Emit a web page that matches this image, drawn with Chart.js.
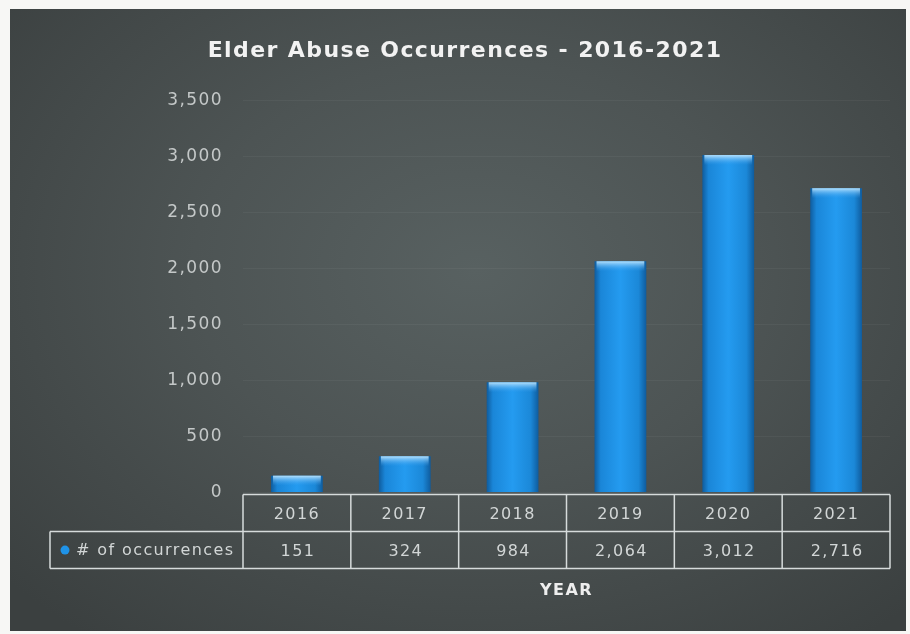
<!DOCTYPE html>
<html>
<head>
    <meta charset="utf-8">
    <title>Elder Abuse Occurrences</title>
    <style>
        html, body {
            margin: 0;
            padding: 0;
            background: #f7f7f5;
        }
        #wrap {
            position: absolute;
            left: 10px;
            top: 9px;
            width: 896px;
            height: 622px;
            background: radial-gradient(ellipse 70% 75% at 52% 42%, #586161 0%, #4d5454 45%, #3b4040 100%);
        }
    </style>
</head>
<body>
    <div id="wrap"><canvas id="myChart"></canvas></div>
</body>
<script src="https://cdn.jsdelivr.net/npm/chart.js"></script>
<script>
    const years = ['2016', '2017', '2018', '2019', '2020', '2021']
    const occurrences = [151, 324, 984, 2064, 3012, 2716]
    const seriesName = '# of occurrences'
    const yMax = 3500
    const yStep = 500

    const BAR_PCT = 0.48
    const SPACING = '1.4px'

    // horizontal shading of each bar, worked out from the x scale
    const barFill = (c) => {
        const chart = c.chart
        const xs = chart.scales.x
        if (!xs || c.dataIndex === undefined) return '#1d8ee0'
        const x = xs.getPixelForValue(c.dataIndex)
        const half = xs.width / years.length * BAR_PCT / 2
        if (!Number.isFinite(x) || !Number.isFinite(half) || half <= 0) return '#1d8ee0'
        const g = chart.ctx.createLinearGradient(x - half, 0, x + half, 0)
        g.addColorStop(0, '#0f5c9e')
        g.addColorStop(0.12, '#1a86d8')
        g.addColorStop(0.5, '#249bf0')
        g.addColorStop(0.85, '#1b88d8')
        g.addColorStop(1, '#0f5c9e')
        return g
    }

    // the scanned chart has loosely spaced lettering
    const spacing = {
        id: 'spacing',
        beforeUpdate(chart) { chart.ctx.letterSpacing = SPACING },
        beforeDraw(chart) { chart.ctx.letterSpacing = SPACING }
    }

    // light cap at the top of every bar
    const barCap = {
        id: 'barCap',
        afterDatasetsDraw(chart) {
            const ctx = chart.ctx
            chart.getDatasetMeta(0).data.forEach(bar => {
                const l = bar.x - bar.width / 2
                const g = ctx.createLinearGradient(0, bar.y, 0, bar.y + 10)
                g.addColorStop(0, 'rgba(190,230,255,0.95)')
                g.addColorStop(1, 'rgba(60,160,240,0)')
                ctx.save()
                ctx.fillStyle = g
                ctx.fillRect(l + 2, bar.y, bar.width - 4, 10)
                ctx.restore()
            })
        }
    }

    // data table under the plot
    const dataTable = {
        id: 'dataTable',
        afterDraw(chart) {
            const ctx = chart.ctx
            const xs = chart.scales.x
            const area = chart.chartArea
            const step = xs.width / years.length
            const top = area.bottom + 2
            const mid = top + 37
            const bot = mid + 37
            const left0 = 40
            const right = area.right

            ctx.save()
            ctx.strokeStyle = '#d6dbdb'
            ctx.lineWidth = 1.5
            ctx.beginPath()
            ctx.moveTo(area.left, top); ctx.lineTo(right, top)
            ctx.moveTo(left0, mid); ctx.lineTo(right, mid)
            ctx.moveTo(left0, bot); ctx.lineTo(right, bot)
            ctx.moveTo(left0, mid); ctx.lineTo(left0, bot)
            for (let k = 0; k <= years.length; k++) {
                const x = area.left + k * step
                ctx.moveTo(x, top); ctx.lineTo(x, bot)
            }
            ctx.stroke()

            const rowY = (mid + bot) / 2
            ctx.fillStyle = '#d2d6d6'
            ctx.font = '16px "DejaVu Sans"'
            ctx.textBaseline = 'middle'
            ctx.textAlign = 'center'
            occurrences.forEach((v, i) => {
                ctx.fillText(v.toLocaleString('en-US'), xs.getPixelForValue(i) + 1, rowY + 2)
            })

            ctx.textAlign = 'left'
            ctx.fillText(seriesName, 66, rowY + 1)

            ctx.fillStyle = '#1f93e8'
            ctx.beginPath()
            ctx.arc(55, rowY, 4.5, 0, Math.PI * 2)
            ctx.fill()
            ctx.restore()
        }
    }

    const data = {
        labels: years,
        datasets: [{
            label: seriesName,
            data: occurrences,
            backgroundColor: barFill,
            borderWidth: 0,
            barPercentage: BAR_PCT,
            categoryPercentage: 1
        }]
    }

    const ctx = document.getElementById('myChart').getContext('2d')
    new Chart(ctx, {
        type: 'bar',
        data: data,
        plugins: [spacing, barCap, dataTable],
        options: {
            responsive: true,
            maintainAspectRatio: false,
            animation: false,
            layout: {
                padding: { left: 30, right: 16, top: 0, bottom: 31 }
            },
            plugins: {
                legend: { display: false },
                tooltip: { enabled: false },
                title: {
                    display: true,
                    text: 'Elder Abuse Occurrences - 2016-2021',
                    color: '#f2f2f2',
                    font: { family: '"DejaVu Sans"', size: 22, weight: 'bold' },
                    padding: { top: 29, bottom: 36 }
                }
            },
            scales: {
                x: {
                    grid: { display: false, drawTicks: false },
                    border: { display: false },
                    ticks: {
                        color: '#d2d6d6',
                        font: { family: '"DejaVu Sans"', size: 16 },
                        padding: 13
                    },
                    title: {
                        display: true,
                        text: 'YEAR',
                        color: '#eeeeee',
                        font: { family: '"DejaVu Sans"', size: 16, weight: 'bold' },
                        padding: { top: 43, bottom: 0 }
                    }
                },
                y: {
                    min: 0,
                    max: yMax,
                    afterFit(scale) { scale.width = 203 },
                    grid: { color: 'rgba(255,255,255,0.045)', drawTicks: false },
                    border: { display: false },
                    ticks: {
                        stepSize: yStep,
                        color: '#c4c8c8',
                        font: { family: '"DejaVu Sans"', size: 17 },
                        padding: 20,
                        callback: v => v.toLocaleString('en-US')
                    }
                }
            }
        }
    })
</script>
</html>
